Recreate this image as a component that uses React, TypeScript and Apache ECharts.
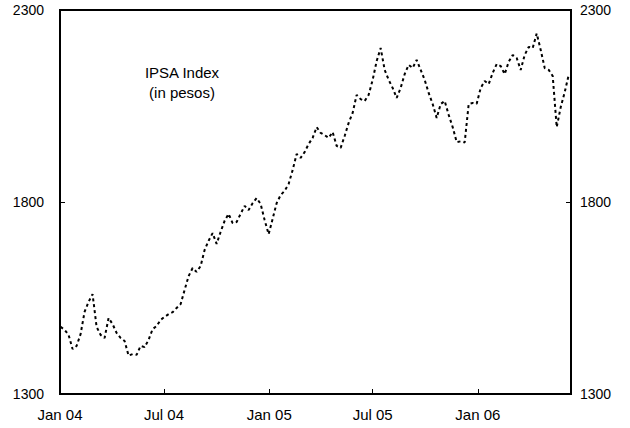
import { useEffect, useRef } from 'react';
import * as echarts from 'echarts';

const weeks: string[] = [
  '2004-01-02','2004-01-09','2004-01-16','2004-01-23','2004-01-30',
  '2004-02-06','2004-02-13','2004-02-20','2004-02-27',
  '2004-03-05','2004-03-12','2004-03-19','2004-03-26',
  '2004-04-02','2004-04-09','2004-04-16','2004-04-23','2004-04-30',
  '2004-05-07','2004-05-14','2004-05-21','2004-05-28',
  '2004-06-04','2004-06-11','2004-06-18','2004-06-25',
  '2004-07-02','2004-07-09','2004-07-16','2004-07-23','2004-07-30',
  '2004-08-06','2004-08-13','2004-08-20','2004-08-27',
  '2004-09-03','2004-09-10','2004-09-17','2004-09-24',
  '2004-10-01','2004-10-08','2004-10-15','2004-10-22','2004-10-29',
  '2004-11-05','2004-11-12','2004-11-19','2004-11-26',
  '2004-12-03','2004-12-10','2004-12-17','2004-12-24','2004-12-31',
  '2005-01-07','2005-01-14','2005-01-21','2005-01-28',
  '2005-02-04','2005-02-11','2005-02-18','2005-02-25',
  '2005-03-04','2005-03-11','2005-03-18','2005-03-25',
  '2005-04-01','2005-04-08','2005-04-15','2005-04-22','2005-04-29',
  '2005-05-06','2005-05-13','2005-05-20','2005-05-27',
  '2005-06-03','2005-06-10','2005-06-17','2005-06-24',
  '2005-07-01','2005-07-08','2005-07-15','2005-07-22','2005-07-29',
  '2005-08-05','2005-08-12','2005-08-19','2005-08-26',
  '2005-09-02','2005-09-09','2005-09-16','2005-09-23','2005-09-30',
  '2005-10-07','2005-10-14','2005-10-21','2005-10-28',
  '2005-11-04','2005-11-11','2005-11-18','2005-11-25',
  '2005-12-02','2005-12-09','2005-12-16','2005-12-23','2005-12-30',
  '2006-01-06','2006-01-13','2006-01-20','2006-01-27',
  '2006-02-03','2006-02-10','2006-02-17','2006-02-24',
  '2006-03-03','2006-03-10','2006-03-17','2006-03-24','2006-03-31',
  '2006-04-07','2006-04-14','2006-04-21','2006-04-28',
  '2006-05-05','2006-05-12','2006-05-19','2006-05-26',
  '2006-06-02','2006-06-09',
];

const ipsa: number[] = [
  1475, 1467, 1454, 1417, 1425, 1456, 1514, 1540, 1560, 1475,
  1454, 1446, 1498, 1482, 1459, 1446, 1438, 1400, 1404, 1402,
  1425, 1422, 1441, 1469, 1477, 1493, 1501, 1508, 1513, 1524,
  1534, 1571, 1607, 1628, 1618, 1633, 1675, 1699, 1719, 1691,
  1722, 1751, 1769, 1745, 1748, 1769, 1790, 1779, 1797, 1810,
  1795, 1753, 1716, 1756, 1797, 1818, 1829, 1847, 1883, 1925,
  1915, 1930, 1951, 1967, 1995, 1980, 1974, 1967, 1982, 1946,
  1941, 1972, 2006, 2032, 2079, 2068, 2063, 2079, 2118, 2167,
  2201, 2144, 2118, 2097, 2071, 2097, 2133, 2157, 2149, 2170,
  2144, 2118, 2084, 2055, 2019, 2055, 2063, 2027, 1995, 1956,
  1958, 1955, 2055, 2058, 2056, 2097, 2115, 2107, 2136, 2159,
  2154, 2133, 2165, 2183, 2175, 2144, 2183, 2204, 2201, 2239,
  2196, 2149, 2144, 2128, 1995, 2047, 2086, 2131,
];

const xTickDates = ['2004-01-01', '2004-07-01', '2005-01-01', '2005-07-01', '2006-01-01'];
const xTickLabels = ['Jan 04', 'Jul 04', 'Jan 05', 'Jul 05', 'Jan 06'];
const xStart = '2004-01-01';
const xEnd = '2006-06-13';
const yMin = 1300;
const yMax = 2300;
const yStep = 500;
const titleLines = ['IPSA Index', '(in pesos)'];

const toTime = (s: string) => {
  const [y, m, d] = s.split('-').map(Number);
  return Date.UTC(y, m - 1, d);
};

export default function App() {
  const ref = useRef<HTMLDivElement>(null);

  useEffect(() => {
    document.body.style.margin = '0';
    if (!ref.current) return;
    const chart = echarts.init(ref.current, undefined, { renderer: 'svg' });
    const tickTimes = xTickDates.map(toTime);
    const font = 'Liberation Sans, Arial, sans-serif';
    const yAxisBase = {
      type: 'value' as const,
      min: yMin,
      max: yMax,
      interval: yStep,
      splitLine: { show: false },
      axisLine: { show: false },
      axisTick: { show: true, inside: true, length: 5, lineStyle: { color: '#000', width: 1 } },
    };
    const yLabel = (margin: number) => ({
      color: '#000',
      fontSize: 14,
      fontFamily: font,
      margin,
      formatter: (v: number) => String(v),
    });
    chart.setOption({
      animation: false,
      backgroundColor: '#fff',
      grid: {
        left: 60,
        right: 59,
        top: 10,
        bottom: 34,
        show: true,
        borderColor: '#000',
        borderWidth: 2,
        backgroundColor: 'transparent',
      },
      xAxis: {
        type: 'value',
        min: toTime(xStart),
        max: toTime(xEnd),
        splitLine: { show: false },
        axisLine: { show: false },
        axisTick: {
          show: true,
          inside: true,
          length: 5,
          customValues: tickTimes,
          lineStyle: { color: '#000', width: 1 },
        },
        axisLabel: {
          customValues: tickTimes,
          color: '#000',
          fontSize: 15,
          fontFamily: font,
          margin: 13,
          formatter: (v: number) => {
            let best = 0;
            tickTimes.forEach((t, i) => {
              if (Math.abs(t - v) < Math.abs(tickTimes[best] - v)) best = i;
            });
            return xTickLabels[best];
          },
        },
      },
      yAxis: [
        { ...yAxisBase, position: 'left', axisLabel: yLabel(16) },
        { ...yAxisBase, position: 'right', axisLabel: yLabel(9) },
      ],
      graphic: [
        {
          type: 'text',
          x: 182,
          y: 62,
          style: {
            text: titleLines.join('\n'),
            fill: '#000',
            font: `15px ${font}`,
            align: 'center',
            lineHeight: 20,
          },
        },
      ],
      series: [
        {
          type: 'line',
          yAxisIndex: 0,
          data: weeks.map((w, i) => [toTime(w), ipsa[i]]),
          showSymbol: false,
          symbol: 'none',
          lineStyle: { color: '#000', width: 2, type: [3, 3] },
        },
      ],
    });
    return () => chart.dispose();
  }, []);

  return (
    <div
      ref={ref}
      style={{ position: 'fixed', left: 0, top: 0, width: 630, height: 428 }}
    />
  );
}
